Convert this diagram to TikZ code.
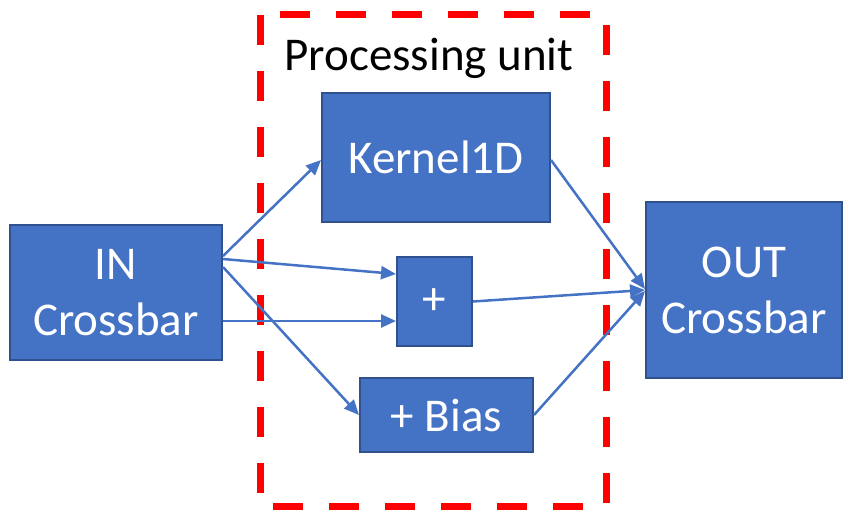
\documentclass[tikz,border=0pt]{standalone}
\usepackage{fontspec}
\setmainfont{Carlito}
\usetikzlibrary{arrows.meta}
\definecolor{boxfill}{HTML}{4472C4}
\definecolor{boxline}{HTML}{2F528F}
\definecolor{pured}{HTML}{FF0000}
\tikzset{
  box/.style={draw=boxline, line width=2pt, fill=boxfill, text=white, align=center,
    inner sep=0pt, font=\fontsize{47}{56}\selectfont},
  conn/.style={draw=boxfill, line width=2.5pt, -{Triangle[length=15pt,width=13pt]}},
  unitframe/.style={draw=pured, line width=7pt, dash pattern=on 30pt off 26pt}
}
\begin{document}
\begin{tikzpicture}[x=1pt,y=-1pt]
\useasboundingbox (0,0) rectangle (853,511);
\draw[unitframe] (260,15) -- (260,506) -- (606,506) -- (606,15) -- cycle;
\node[anchor=base, font=\fontsize{47}{56}\selectfont] (title) at (429,70.5) {Processing unit};
\node[box, minimum width=212pt, minimum height=135pt] (in) at (116,292.5) {IN\\Crossbar};
\node[box, minimum width=228pt, minimum height=129pt] (kern) at (436,157.5) {Kernel1D};
\node[box, minimum width=75pt, minimum height=89pt] (plus) at (434.5,301.5) {+};
\node[box, minimum width=173pt, minimum height=74pt] (bias) at (446.5,415) {+ Bias};
\node[box, minimum width=196pt, minimum height=176pt] (out) at (744,290) {OUT\\Crossbar};
\draw[conn] ([yshift=-32pt]in.north east) -- ([yshift=-2.5pt]kern.west);
\draw[conn] ([yshift=-35pt]in.north east) -- ([yshift=-18pt]plus.north west);
\draw[conn] ([yshift=-97pt]in.north east) -- ([yshift=-65pt]plus.north west);
\draw[conn] ([yshift=-43pt]in.north east) -- (bias.west);
\draw[conn] ([yshift=-2.5pt]kern.east) -- ([yshift=1pt]out.west);
\draw[conn] (plus.east) -- ([yshift=0pt]out.west);
\draw[conn] (bias.east) -- ([yshift=-1pt]out.west);
\end{tikzpicture}
\end{document}
